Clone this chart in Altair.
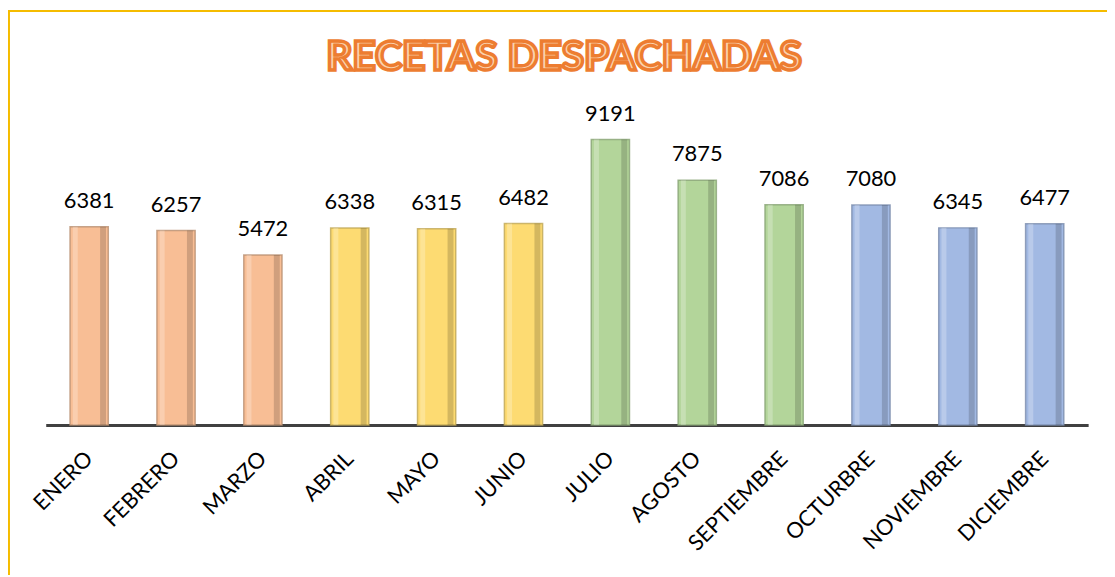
import altair as alt
import pandas as pd

months = ["ENERO", "FEBRERO", "MARZO", "ABRIL", "MAYO", "JUNIO", "JULIO",
          "AGOSTO", "SEPTIEMBRE", "OCTURBRE", "NOVIEMBRE", "DICIEMBRE"]
values = [6381, 6257, 5472, 6338, 6315, 6482, 9191, 7875, 7086, 7080, 6345, 6477]
groups = ["T1", "T1", "T1", "T2", "T2", "T2", "T3", "T3", "T3", "T4", "T4", "T4"]
group_names = ["T1", "T2", "T3", "T4"]
group_colors = ["#F8BE95", "#FDDB72", "#B3D59A", "#A2B9E3"]
edge_colors = ["#B88E70", "#BFA655", "#87A274", "#7A8CAD"]

df = pd.DataFrame({"mes": months, "valor": values, "grupo": groups})

x = alt.X("mes:N", sort=months, title=None,
          scale=alt.Scale(paddingInner=0.56, paddingOuter=0.28),
          axis=alt.Axis(labelAngle=-45, labelAlign="right", labelBaseline="middle",
                        labelFontSize=22, labelFont="Lato", labelColor="#000000",
                        labelPadding=30, ticks=False, domainColor="#404040",
                        domainWidth=3))
y = alt.Y("valor:Q", title=None, scale=alt.Scale(domain=[0, 10000]), axis=None)

base = alt.Chart(df)

bars = base.mark_bar(strokeWidth=1.5, strokeOpacity=0.8).encode(
    x=x, y=y,
    color=alt.Color("grupo:N", scale=alt.Scale(domain=group_names, range=group_colors), legend=None),
    stroke=alt.Stroke("grupo:N", scale=alt.Scale(domain=group_names, range=edge_colors), legend=None),
)

shade = base.mark_bar(color="#000000", opacity=0.16, size=6, xOffset=14).encode(
    x=alt.X("mes:N", sort=months), y=y
)
light = base.mark_bar(color="#FFFFFF", opacity=0.25, size=5, xOffset=-14).encode(
    x=alt.X("mes:N", sort=months), y=y
)

labels = base.mark_text(dy=-14, baseline="bottom", fontSize=22, font="Lato", color="#000000").encode(
    x=alt.X("mes:N", sort=months), y=y, text=alt.Text("valor:Q", format="d")
)

title_df = pd.DataFrame({"t": ["RECETAS DESPACHADAS"]})
title = alt.Chart(title_df).mark_text(
    fontSize=41, font="Lato", fontWeight="bold", fill="#FBD3AE",
    stroke="#ED7D31", strokeWidth=3.5, align="center", baseline="middle"
).encode(text="t:N", x=alt.value(522), y=alt.value(-57))

border_left = alt.Chart(title_df).mark_rule(color="#F5BC00", strokeWidth=2).encode(
    x=alt.value(-37), y=alt.value(-105), y2=alt.value(464)
)
border_top = alt.Chart(title_df).mark_rule(color="#F5BC00", strokeWidth=2).encode(
    x=alt.value(-38), x2=alt.value(1070), y=alt.value(-104)
)

chart = alt.layer(bars, shade, light, labels, title, border_left, border_top).properties(
    width=1050, height=313,
    autosize=alt.AutoSizeParams(type="none"),
    padding={"left": 38, "top": 105, "right": 19, "bottom": 151},
).configure(background="#FFFFFF").configure_view(strokeWidth=0, stroke="transparent")

chart.save("out.html", embed_options={"renderer": "svg", "actions": False})
